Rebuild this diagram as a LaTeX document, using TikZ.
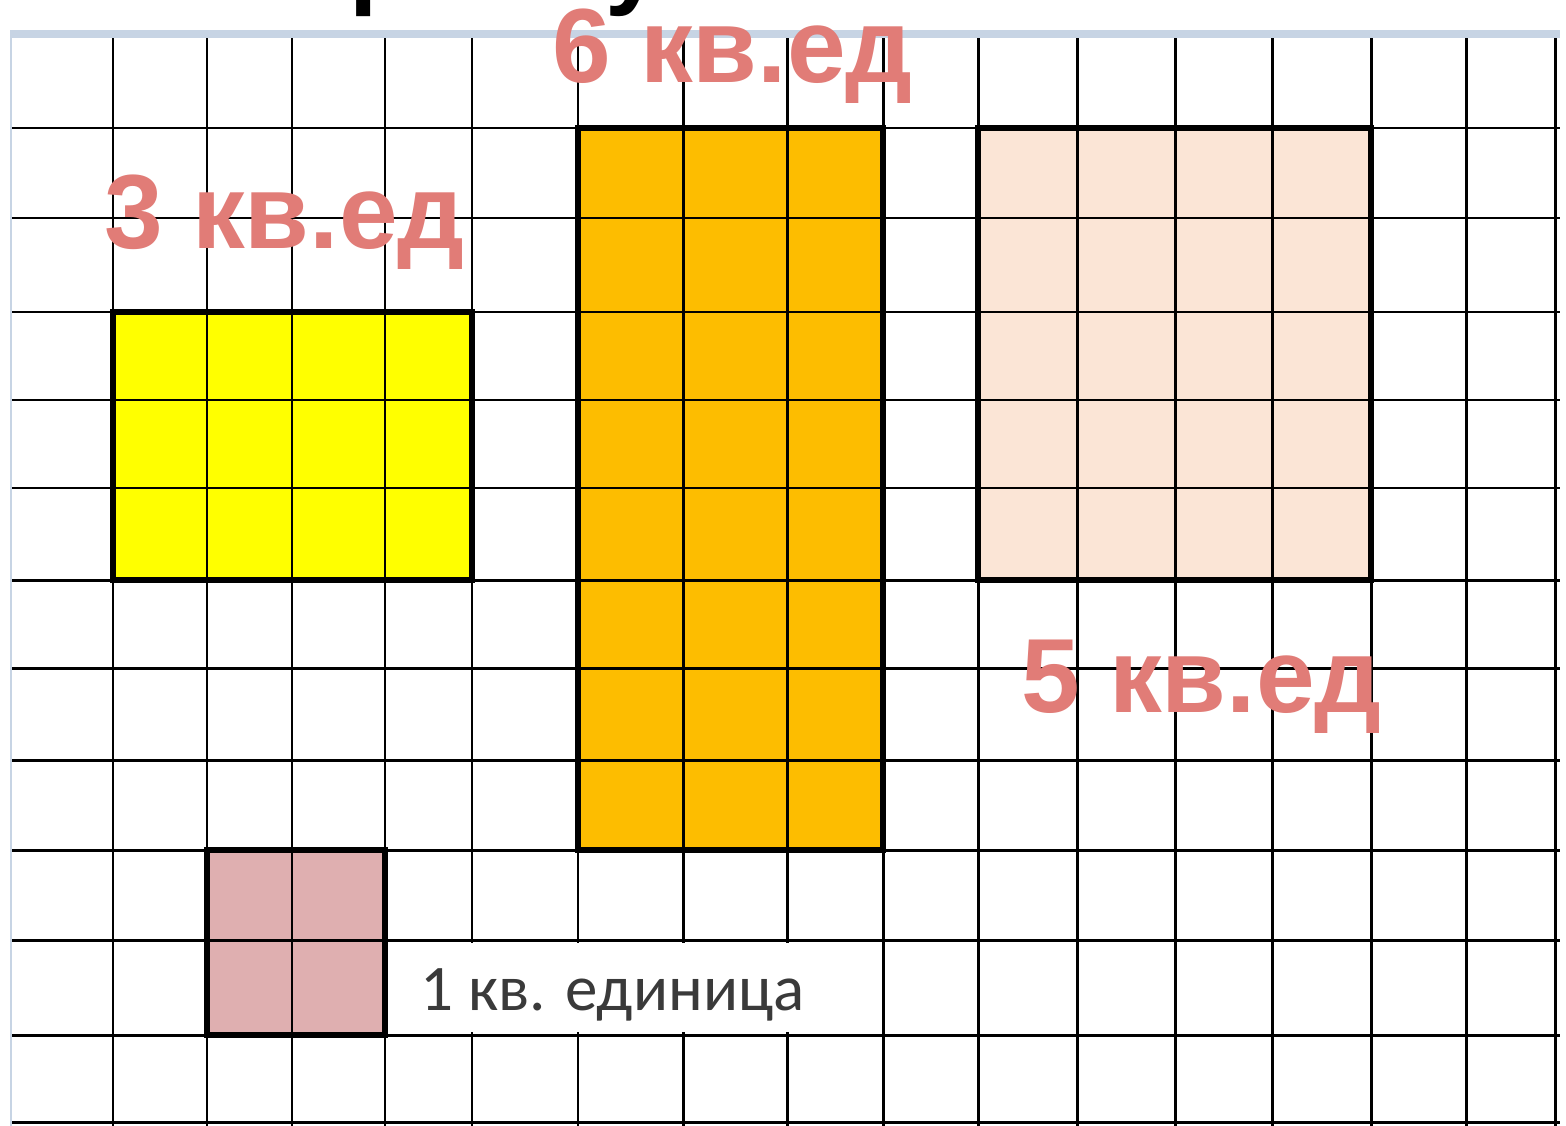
\documentclass[tikz,border=0pt]{standalone}
\usepackage{fontspec}
\setmainfont{Liberation Sans}
\newfontfamily\unitfont{Carlito}
\definecolor{areared}{HTML}{E17C77}
\definecolor{fillyellow}{HTML}{FFFF00}
\definecolor{fillorange}{HTML}{FDBD00}
\definecolor{fillpeach}{HTML}{FBE5D6}
\definecolor{fillpink}{HTML}{DFAFB0}
\definecolor{edgeblue}{HTML}{C7D4E4}
\definecolor{unitgray}{HTML}{3A3A3A}

\begin{document}
\begin{tikzpicture}[
  x=0.02cm, y=-0.02cm,
  gridline/.style={black, line width=1.7pt},
  frame/.style={black, line width=3.4pt},
  area/.style={font=\bfseries\fontsize{60}{60}\selectfont, text=areared,
    inner sep=0pt, anchor=base west},
  unit/.style={font=\unitfont\fontsize{37}{37}\selectfont, text=unitgray,
    inner sep=0pt, anchor=base west},
]
  \path[use as bounding box, clip] (0,0) rectangle (1566,1126);
  \fill[white] (0,0) rectangle (1566,1126);

  % coloured figures
  \fill[fillyellow] (113,312) rectangle (472,580);
  \fill[fillorange] (578,128) rectangle (883,850);
  \fill[fillpeach] (978,128) rectangle (1371,580);
  \fill[fillpink] (207,850) rectangle (385,1035);

  % squared paper
  \foreach \x in {113,207,292,385,472,578,683,787,883,978,1077,1175,1272,1371,1466,1555}
    \draw[gridline] (\x,35) -- (\x,1126);
  \foreach \y in {128,218,312,400,488,580,668,760,850,940,1035,1122}
    \draw[gridline] (12,\y) -- (1560,\y);
  \draw[edgeblue, line width=4pt] (10,34) -- (1560,34);
  \draw[edgeblue, line width=1.5pt] (11,34) -- (11,1126);

  \draw[frame] (113,312) rectangle (472,580);
  \draw[frame] (578,128) rectangle (883,850);
  \draw[frame] (978,128) rectangle (1371,580);
  \draw[frame] (207,850) rectangle (385,1035);

  % unit square caption
  \fill[white] (388,943) rectangle (880,1032);
  \node[unit] (unitlbl) at (420,1010) {1 кв. единица};

  \node[area] (yellowlbl) at (104,248) {3 кв.ед};
  \node[area] (orangelbl) at (552,82) {6 кв.ед};
  \node[area] (peachlbl) at (1021,712) {5 кв.ед};

  \node[anchor=base west, inner sep=0pt, font=\bfseries\fontsize{58}{58}\selectfont]
    (title) at (288,-5) {прямоугольников?};
\end{tikzpicture}
\end{document}
